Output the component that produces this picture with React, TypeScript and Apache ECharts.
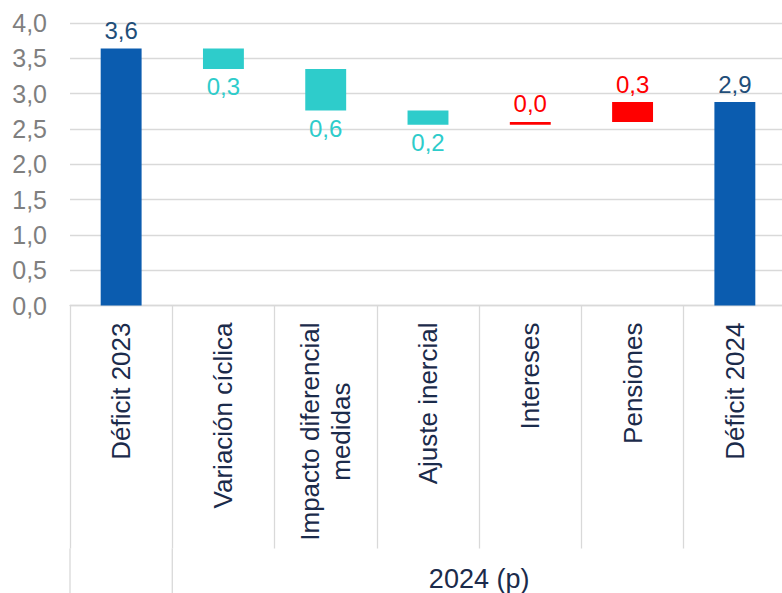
import { useEffect, useRef } from 'react';
import * as echarts from 'echarts';

const categories = [
  'Déficit 2023',
  'Variación cíclica',
  'Impacto diferencial\nmedidas',
  'Ajuste inercial',
  'Intereses',
  'Pensiones',
  'Déficit 2024',
];
const startTotal = 3.64;
const changes = [-0.29, -0.59, -0.2, 0.04, 0.28];
const endTotal = 2.88;
const groupLabel = '2024 (p)';

const FONT = 'Liberation Sans, Arial, sans-serif';
const COL_TOTAL = '#0B5CAF';
const COL_TOTAL_LABEL = '#1F4E79';
const COL_DOWN = '#2ECCCB';
const COL_UP = '#FF0000';
const COL_CAT = '#1B2B4B';

const fmt = (v: number) => v.toFixed(1).replace('.', ',');

export default function App() {
  const ref = useRef<HTMLDivElement>(null);
  useEffect(() => {
    if (!ref.current) return;
    const chart = echarts.init(ref.current, undefined, { renderer: 'svg' });

    const bases: number[] = [0];
    const items: any[] = [];
    items.push({
      value: startTotal,
      itemStyle: { color: COL_TOTAL },
      label: { position: 'top', color: COL_TOTAL_LABEL },
    });
    let level = startTotal;
    changes.forEach((c) => {
      if (c < 0) {
        level += c;
        bases.push(level);
        items.push({
          value: -c,
          itemStyle: { color: COL_DOWN },
          label: { position: 'bottom', color: COL_DOWN },
        });
      } else {
        bases.push(level);
        level += c;
        items.push({
          value: c,
          itemStyle: { color: COL_UP },
          label: { position: 'top', color: COL_UP },
        });
      }
    });
    bases.push(0);
    items.push({
      value: endTotal,
      itemStyle: { color: COL_TOTAL },
      label: { position: 'top', color: COL_TOTAL_LABEL },
    });

    const gridLeft = 70;
    const gridWidth = 716;
    const gridTop = 23;
    const gridHeight = 282.5;
    const catW = gridWidth / categories.length;
    const axisY = gridTop + gridHeight;

    chart.setOption({
      animation: false,
      grid: { left: gridLeft, top: gridTop, width: gridWidth, height: gridHeight, containLabel: false },
      xAxis: {
        type: 'category',
        data: categories,
        boundaryGap: true,
        axisLine: { lineStyle: { color: '#D9D9D9', width: 1.3 } },
        axisTick: { show: true, interval: 0, length: 243, lineStyle: { color: '#D9D9D9', width: 1.3 } },
        axisLabel: {
          interval: 0,
          rotate: 90,
          margin: 17,
          fontSize: 26,
          color: COL_CAT,
          fontFamily: FONT,
          formatter: (v: string) => v.split('\n').map((l) => `{c|${l}}`).join('\n'),
          rich: {
            c: { align: 'center', fontSize: 26, color: COL_CAT, fontFamily: FONT, lineHeight: 31 },
          },
        },
      },
      yAxis: {
        type: 'value',
        min: 0,
        max: 4,
        interval: 0.5,
        axisLine: { show: false },
        axisTick: { show: false },
        axisLabel: { formatter: (v: number) => fmt(v), color: '#7F7F7F', fontSize: 25, margin: 23, fontFamily: FONT },
        splitLine: { lineStyle: { color: '#D9D9D9', width: 1.3 } },
      },
      series: [
        {
          type: 'bar',
          stack: 'w',
          data: bases,
          barWidth: '40%',
          itemStyle: { color: 'transparent' },
          silent: true,
        },
        {
          type: 'bar',
          stack: 'w',
          data: items,
          barWidth: '40%',
          label: {
            show: true,
            fontSize: 24,
            fontFamily: FONT,
            distance: 6,
            formatter: (p: any) => fmt(p.value),
          },
        },
      ],
      graphic: [
        {
          type: 'line',
          shape: { x1: gridLeft, y1: axisY + 243, x2: gridLeft, y2: 593 },
          style: { stroke: '#D9D9D9', lineWidth: 1.3 },
        },
        {
          type: 'line',
          shape: { x1: gridLeft + catW, y1: axisY + 243, x2: gridLeft + catW, y2: 593 },
          style: { stroke: '#D9D9D9', lineWidth: 1.3 },
        },
        {
          type: 'text',
          x: gridLeft + 4 * catW,
          y: 579,
          style: {
            text: groupLabel,
            fill: COL_CAT,
            fontSize: 27,
            fontFamily: FONT,
            align: 'center',
            verticalAlign: 'middle',
          },
        },
      ],
    });
    return () => chart.dispose();
  }, []);
  return (
    <div style={{ position: 'absolute', left: 0, top: 0, width: 782, height: 593, overflow: 'hidden' }}>
      <div ref={ref} style={{ width: 792, height: 593 }} />
    </div>
  );
}
